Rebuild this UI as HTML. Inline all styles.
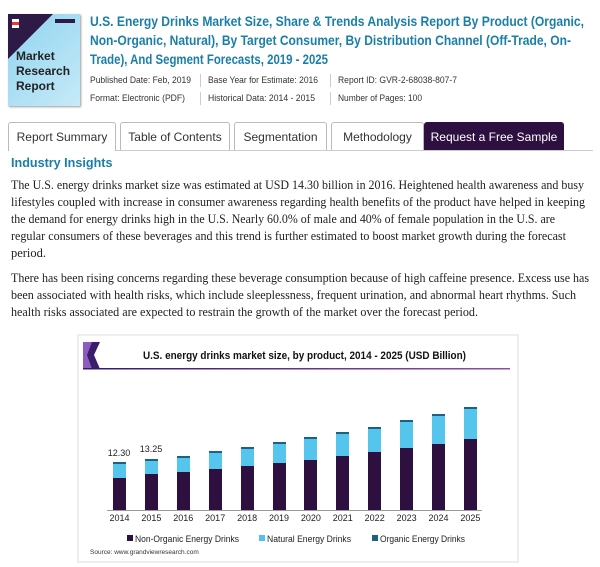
<!DOCTYPE html>
<html><head><meta charset="utf-8"><style>
body{margin:0;width:600px;height:567px;background:#fff;position:relative;overflow:hidden;font-family:"Liberation Sans",sans-serif}
.a{position:absolute;white-space:nowrap}
.sep{position:absolute;width:1px;background:#ccc;height:13px}
.tab{position:absolute;top:122px;height:28px;border:1px solid #bbb;border-bottom:none;border-radius:3px 3px 0 0;background:#fff;font-size:12px;color:#333;text-align:center;line-height:28px;box-sizing:border-box}
</style></head><body>
<div class="a" style="left:8px;top:14px;width:72px;height:92px;background:linear-gradient(135deg,#8fd3ef,#c6eaf8);box-shadow:1px 1px 2px #999"></div>
<svg class="a" style="left:8px;top:14px" width="72" height="92"><polygon points="0,0 45,0 0,45" fill="#2e1a47"/><rect x="4" y="5" width="7" height="9" fill="#fff"/><rect x="4" y="8" width="7" height="3" fill="#e33"/><rect x="47" y="5" width="20" height="4" fill="#2e1a47"/></svg>
<div class="a" style="left:16px;top:49px;font-size:12px;font-weight:bold;color:#222;line-height:15px;white-space:normal;width:62px">Market Research Report</div>
<svg class="a" style="left:0;top:0" width="600" height="330" font-family="Liberation Sans, sans-serif">
<g font-size="13.6" font-weight="bold" fill="#1a7fa8" lengthAdjust="spacingAndGlyphs">
<text x="90" y="26" textLength="494" lengthAdjust="spacingAndGlyphs">U.S. Energy Drinks Market Size, Share &amp; Trends Analysis Report By Product (Organic,</text>
<text x="90" y="45" textLength="481" lengthAdjust="spacingAndGlyphs">Non-Organic, Natural), By Target Consumer, By Distribution Channel (Off-Trade, On-</text>
<text x="90" y="64" textLength="238" lengthAdjust="spacingAndGlyphs">Trade), And Segment Forecasts, 2019 - 2025</text>
</g>
<g font-size="9.2" fill="#333">
<text x="90" y="83" textLength="101" lengthAdjust="spacingAndGlyphs">Published Date: Feb, 2019</text>
<text x="208" y="83" textLength="110" lengthAdjust="spacingAndGlyphs">Base Year for Estimate: 2016</text>
<text x="338" y="83" textLength="119" lengthAdjust="spacingAndGlyphs">Report ID: GVR-2-68038-807-7</text>
<text x="90" y="101" textLength="95" lengthAdjust="spacingAndGlyphs">Format: Electronic (PDF)</text>
<text x="208" y="101" textLength="107" lengthAdjust="spacingAndGlyphs">Historical Data: 2014 - 2015</text>
<text x="338" y="101" textLength="84" lengthAdjust="spacingAndGlyphs">Number of Pages: 100</text>
</g>
<text x="11" y="167" font-size="12.6" font-weight="bold" fill="#1a7fa8">Industry Insights</text>
<g font-family="Liberation Serif, serif" font-size="12.6" fill="#222">
<text x="11" y="189" textLength="573" lengthAdjust="spacingAndGlyphs">The U.S. energy drinks market size was estimated at USD 14.30 billion in 2016. Heightened health awareness and busy</text>
<text x="11" y="206" textLength="574" lengthAdjust="spacingAndGlyphs">lifestyles coupled with increase in consumer awareness regarding health benefits of the product have helped in keeping</text>
<text x="11" y="223" textLength="544" lengthAdjust="spacingAndGlyphs">the demand for energy drinks high in the U.S. Nearly 60.0% of male and 40% of female population in the U.S. are</text>
<text x="11" y="240" textLength="555" lengthAdjust="spacingAndGlyphs">regular consumers of these beverages and this trend is further estimated to boost market growth during the forecast</text>
<text x="11" y="257" textLength="35" lengthAdjust="spacingAndGlyphs">period.</text>
<text x="11" y="282" textLength="578" lengthAdjust="spacingAndGlyphs">There has been rising concerns regarding these beverage consumption because of high caffeine presence. Excess use has</text>
<text x="11" y="299" textLength="565" lengthAdjust="spacingAndGlyphs">been associated with health risks, which include sleeplessness, frequent urination, and abnormal heart rhythms. Such</text>
<text x="11" y="316" textLength="467" lengthAdjust="spacingAndGlyphs">health risks associated are expected to restrain the growth of the market over the forecast period.</text>
</g>
</svg>
<div class="sep" style="left:200px;top:74px"></div><div class="sep" style="left:330px;top:74px"></div>
<div class="sep" style="left:200px;top:92px"></div><div class="sep" style="left:330px;top:92px"></div>
<div class="a" style="left:8px;top:150px;width:585px;height:1px;background:#ccc"></div>
<div class="tab" style="left:8px;width:108px;height:29px">Report Summary</div>
<div class="tab" style="left:120px;width:110px">Table of Contents</div>
<div class="tab" style="left:234px;width:93px">Segmentation</div>
<div class="tab" style="left:331px;width:93px">Methodology</div>
<div class="tab" style="left:424px;width:140px;background:#2e1040;color:#fff;border-color:#2e1040">Request a Free Sample</div>
<svg class="a" style="left:0;top:0" width="600" height="567" font-family="Liberation Sans, sans-serif">
<defs><linearGradient id="g" x1="0" x2="1"><stop offset="0" stop-color="#2e1a6e"/><stop offset="1" stop-color="#8a4fa8"/></linearGradient></defs>
<rect x="78" y="335" width="440" height="227" fill="#fff" stroke="#ddd"/>
<polygon points="83,342 100,342 94,355 100,369 83,369" fill="#3a1e6a"/><polygon points="83,342 92,342 87,355 92,369 83,369" fill="#8c5cc0"/>
<rect x="83" y="368" width="427" height="1.5" fill="url(#g)"/>
<text x="143" y="359" font-size="11" font-weight="bold" fill="#111" textLength="323" lengthAdjust="spacingAndGlyphs">U.S. energy drinks market size, by product, 2014 - 2025 (USD Billion)</text>
<line x1="107" y1="510.5" x2="482" y2="510.5" stroke="#999"/>
<text x="119" y="456" text-anchor="middle" font-size="9" fill="#222">12.30</text>
<text x="151" y="452" text-anchor="middle" font-size="9" fill="#222">13.25</text>
<g font-size="9" fill="#222" text-anchor="middle">
<text x="119.5" y="521">2014</text><text x="151.4" y="521">2015</text><text x="183.3" y="521">2016</text><text x="215.2" y="521">2017</text><text x="247.1" y="521">2018</text><text x="279" y="521">2019</text><text x="310.9" y="521">2020</text><text x="342.8" y="521">2021</text><text x="374.7" y="521">2022</text><text x="406.6" y="521">2023</text><text x="438.5" y="521">2024</text><text x="470.4" y="521">2025</text>
</g>
<rect x="127" y="535" width="6" height="6" fill="#2e1040"/><text x="135" y="542" font-size="9" fill="#222" textLength="104" lengthAdjust="spacingAndGlyphs">Non-Organic Energy Drinks</text>
<rect x="259" y="535" width="6" height="6" fill="#4fc3ec"/><text x="267" y="542" font-size="9" fill="#222" textLength="84" lengthAdjust="spacingAndGlyphs">Natural Energy Drinks</text>
<rect x="372" y="535" width="6" height="6" fill="#1f5f80"/><text x="380" y="542" font-size="9" fill="#222" textLength="85" lengthAdjust="spacingAndGlyphs">Organic Energy Drinks</text>
<text x="90" y="554" font-size="6.5" fill="#333">Source: www.grandviewresearch.com</text>
<g>
<rect x="113" y="478" width="13" height="32" fill="#2e1040"/><rect x="113" y="464" width="13" height="14" fill="#55c5ee"/><rect x="113" y="462" width="13" height="2" fill="#1f5f80"/>
<rect x="145" y="474" width="13" height="36" fill="#2e1040"/><rect x="145" y="461" width="13" height="13" fill="#55c5ee"/><rect x="145" y="459" width="13" height="2" fill="#1f5f80"/>
<rect x="177" y="472" width="13" height="38" fill="#2e1040"/><rect x="177" y="458" width="13" height="14" fill="#55c5ee"/><rect x="177" y="456" width="13" height="2" fill="#1f5f80"/>
<rect x="209" y="469" width="13" height="41" fill="#2e1040"/><rect x="209" y="453" width="13" height="16" fill="#55c5ee"/><rect x="209" y="451" width="13" height="2" fill="#1f5f80"/>
<rect x="241" y="466" width="13" height="44" fill="#2e1040"/><rect x="241" y="449" width="13" height="17" fill="#55c5ee"/><rect x="241" y="447" width="13" height="2" fill="#1f5f80"/>
<rect x="273" y="463" width="13" height="47" fill="#2e1040"/><rect x="273" y="444" width="13" height="19" fill="#55c5ee"/><rect x="273" y="442" width="13" height="2" fill="#1f5f80"/>
<rect x="304" y="460" width="13" height="50" fill="#2e1040"/><rect x="304" y="439" width="13" height="21" fill="#55c5ee"/><rect x="304" y="437" width="13" height="2" fill="#1f5f80"/>
<rect x="336" y="456" width="13" height="54" fill="#2e1040"/><rect x="336" y="434" width="13" height="22" fill="#55c5ee"/><rect x="336" y="432" width="13" height="2" fill="#1f5f80"/>
<rect x="368" y="452" width="13" height="58" fill="#2e1040"/><rect x="368" y="429" width="13" height="23" fill="#55c5ee"/><rect x="368" y="427" width="13" height="2" fill="#1f5f80"/>
<rect x="400" y="448" width="13" height="62" fill="#2e1040"/><rect x="400" y="422" width="13" height="26" fill="#55c5ee"/><rect x="400" y="420" width="13" height="2" fill="#1f5f80"/>
<rect x="432" y="444" width="13" height="66" fill="#2e1040"/><rect x="432" y="416" width="13" height="28" fill="#55c5ee"/><rect x="432" y="414" width="13" height="2" fill="#1f5f80"/>
<rect x="464" y="439" width="13" height="71" fill="#2e1040"/><rect x="464" y="409" width="13" height="30" fill="#55c5ee"/><rect x="464" y="407" width="13" height="2" fill="#1f5f80"/>
</g>
</svg>
</body></html>
